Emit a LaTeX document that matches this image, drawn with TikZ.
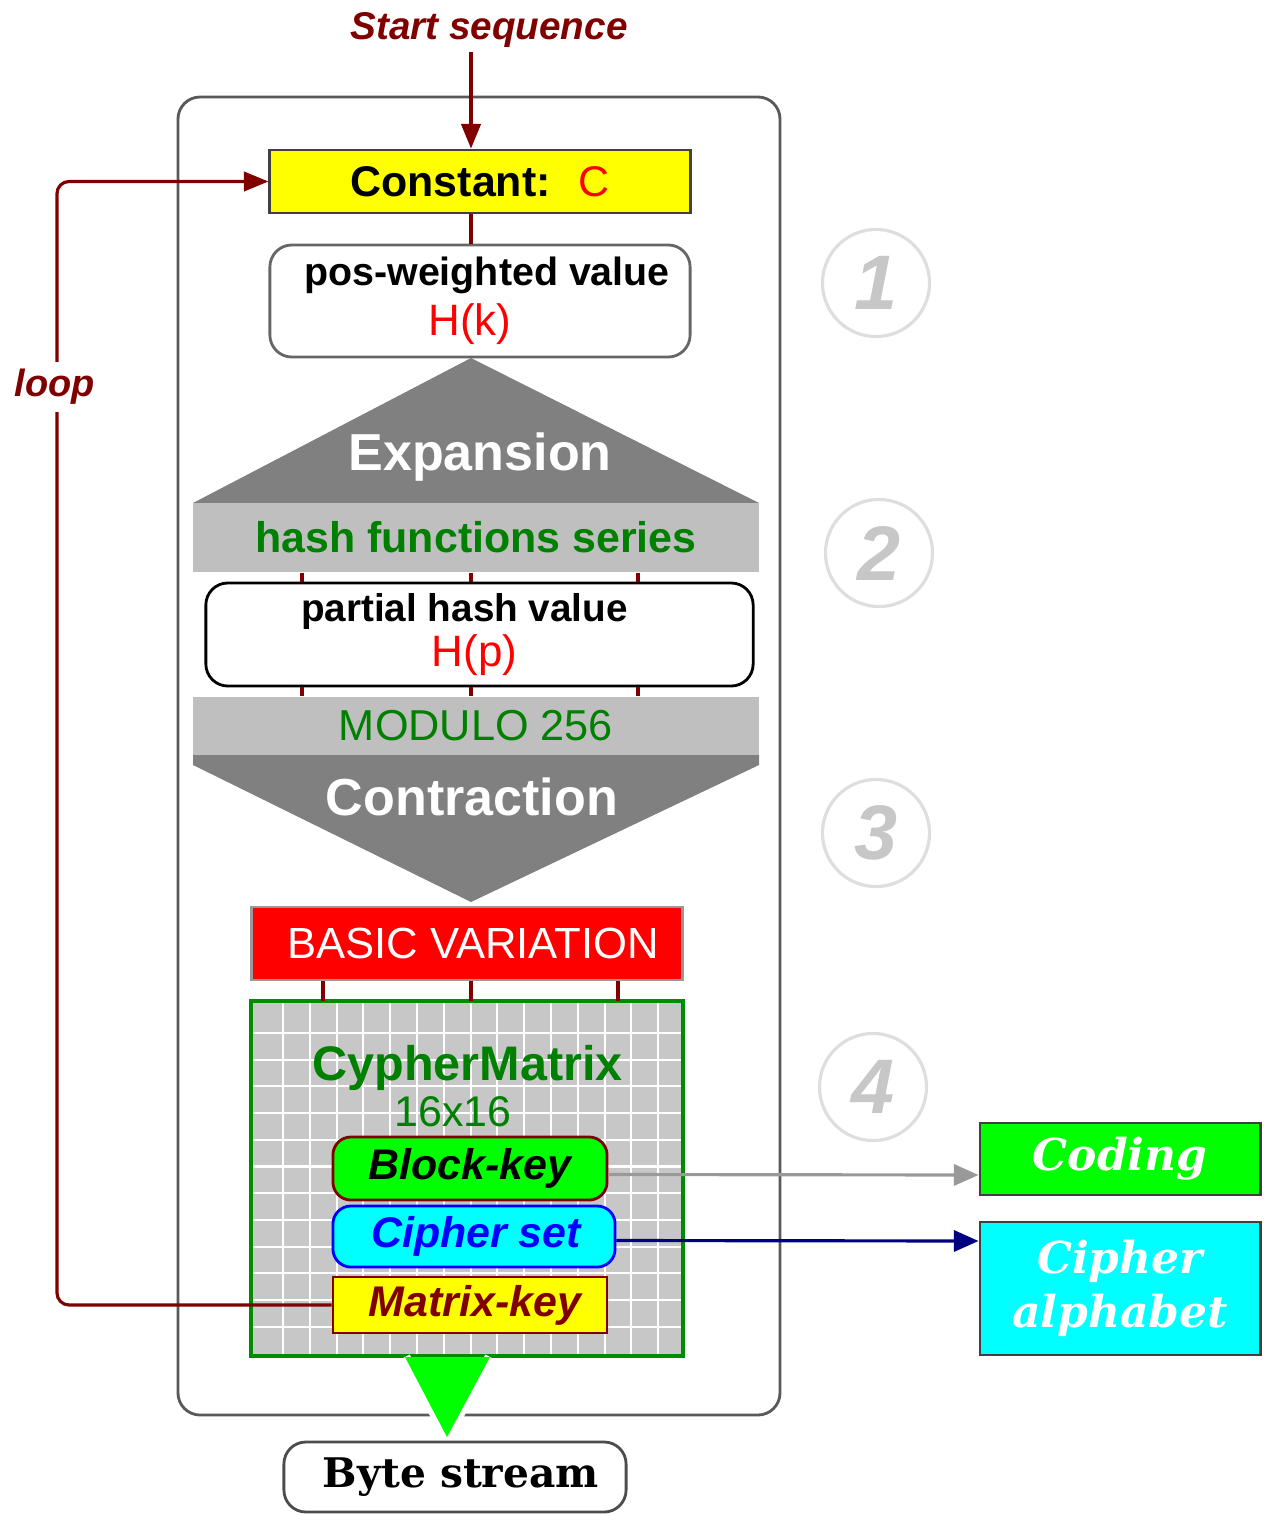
\documentclass[tikz,border=0pt]{standalone}
\usepackage{fontspec}
\setsansfont{Liberation Sans}
\newfontfamily\slabfont{DejaVu Serif}
\usetikzlibrary{positioning,arrows.meta}
\definecolor{aqua}{RGB}{0,255,255}
\definecolor{lemon}{RGB}{255,255,0}
\definecolor{lime}{RGB}{0,255,0}

\begin{document}
\begin{tikzpicture}[
    x=0.01cm, y=-0.01cm,
    node/.style={%
      inner sep=0pt,
      font=\sffamily,
    },
  ]

\tikzstyle{plate} = [node, rectangle, draw=black!75, line width=0.8pt, align=center]
\tikzstyle{box} = [plate, rounded corners=0.22cm, fill=white]
\tikzstyle{bar} = [node, rectangle, minimum width=5.66cm, fill=black!25, text=green!50!black]
\tikzstyle{key} = [plate, rounded corners=0.18cm, minimum width=2.74cm, font=\sffamily\bfseries\itshape\fontsize{12.2}{14}\selectfont]
\tikzstyle{result} = [plate, minimum width=2.8cm, text=white, font=\slabfont\bfseries\itshape\fontsize{12.5}{15.4}\selectfont]
\tikzstyle{num} = [node, circle, minimum size=1.07cm, draw=black!13, line width=0.9pt, text=black!22, font=\sffamily\bfseries\itshape\fontsize{22}{22}\selectfont]
\tikzstyle{stub} = [red!50!black, line width=0.9pt]
\tikzstyle{link} = [red!50!black, line width=0.9pt, -{Triangle[length=7pt,width=5.5pt]}]

\useasboundingbox (0,0) rectangle (1264,1515);

% frame
\draw [black!65, line width=0.8pt, rounded corners=0.22cm] (178,97) rectangle (780,1415);

% expansion and contraction
\fill [black!50] (471,358) -- (759,503) -- (193,503) -- cycle;
\fill [black!50] (193,755) -- (759,755) -- (759,765) -- (471,902) -- (193,765) -- cycle;
\node [node, text=white, font=\sffamily\bfseries\fontsize{14.8}{16}\selectfont] (W) at (480,457) {Expansion};
\node [node, text=white, font=\sffamily\bfseries\fontsize{14.8}{16}\selectfont] (X) at (472,797) {Contraction};

\node [plate, minimum width=4.2cm, minimum height=0.63cm, fill=lemon, font=\sffamily\bfseries\fontsize{12.2}{14}\selectfont] (A) at (480,181.5) {Constant:\hspace{0.65em}\textcolor{red}{\mdseries C}};
\node [box, minimum width=4.2cm, minimum height=1.12cm, draw=black!60, font=\sffamily\bfseries\fontsize{11.2}{14.2}\selectfont] (B) at (480,301) {\hspace*{0.14cm}pos-weighted value\\\textcolor{red}{\mdseries\fontsize{12.5}{14.2}\selectfont H(k)}\hspace*{0.2cm}};
\node [bar, minimum height=0.69cm, font=\sffamily\bfseries\fontsize{12.2}{14}\selectfont] (C) at (476,537.5) {hash functions series};
\node [box, minimum width=5.47cm, minimum height=1.03cm, draw=black, font=\sffamily\bfseries\fontsize{11}{12.8}\selectfont] (D) at (479.5,634.5) {partial hash value\hspace*{0.3cm}\\\textcolor{red}{\mdseries\fontsize{12.5}{12.8}\selectfont H(p)}\hspace*{0.1cm}};
\node [bar, minimum height=0.58cm, font=\sffamily\fontsize{12.3}{14}\selectfont] (E) at (476,726) {MODULO 256};
\node [plate, minimum width=4.3cm, minimum height=0.73cm, draw=black!40, fill=red, text=white, font=\sffamily\fontsize{12.4}{14}\selectfont] (F) at (467,943.5) {\hspace*{0.12cm}BASIC VARIATION};

\draw [stub] (A.south -| 471,0) -- (B.north -| 471,0);
\foreach \x in {302,471,638} {
  \draw [stub] (C.south -| \x,0) -- (D.north -| \x,0);
  \draw [stub] (D.south -| \x,0) -- (E.north -| \x,0);
}

% cypher matrix
\node [node, rectangle, minimum width=4.3cm, minimum height=3.53cm, fill=black!22] (G) at (467,1178.5) {};
\foreach \i in {0,...,14}
  \draw [white, line width=0.6pt] (283+26.8*\i,1003) -- (283+26.8*\i,1354);
\foreach \j in {0,...,11}
  \draw [white, line width=0.6pt] (253,1033+26.7*\j) -- (681,1033+26.7*\j);
\draw [green!55!black, line width=1.1pt] (G.south west) rectangle (G.north east);
\foreach \x in {323,471,618}
  \draw [stub] (F.south -| \x,0) -- (G.north -| \x,0);

\node [node, text=green!50!black, font=\sffamily\bfseries\fontsize{13.8}{15}\selectfont] (H) at (467.5,1068) {CypherMatrix};
\node [node, text=green!50!black, font=\sffamily\fontsize{12.2}{14}\selectfont] (I) at (453,1112) {16x16};
\node [key, minimum height=0.63cm, fill=lime, draw=red!50!black] (J) at (470,1168.5) {Block-key};
\node [key, minimum width=2.82cm, minimum height=0.61cm, fill=aqua, draw=blue, text=blue] (K) at (474,1236.5) {\hspace*{0.04cm}Cipher set};
\node [key, rounded corners=0pt, minimum height=0.56cm, fill=lemon, draw=red!50!black, text=red!50!black] (L) at (470,1305) {\hspace*{0.1cm}Matrix-key};

% outputs
\node [result, minimum height=0.72cm, fill=lime] (M) at (1120,1159) {Coding};
\node [result, minimum height=1.33cm, fill=aqua] (N) at (1120,1288.5) {Cipher\\alphabet};
\draw [black!40, line width=0.9pt, -{Triangle[length=7pt,width=6pt]}] ([yshift=-0.06cm]J.east) -- (M.west |- 0,1175);
\draw [blue!50!black, line width=0.9pt, -{Triangle[length=7pt,width=6pt]}] ([yshift=-0.04cm]K.east) -- (N.west |- 0,1241);

% loop back
\draw [link, rounded corners=0.12cm] (L.west) -| (A.west -| 57,0) -- (A.west);
\node [node, fill=white, inner sep=2pt, text=red!50!black, font=\sffamily\bfseries\itshape\fontsize{10.8}{12}\selectfont] (O) at (55,387) {loop};

% start
\node [node, text=red!50!black, font=\sffamily\bfseries\itshape\fontsize{11}{13}\selectfont] (P) at (489,30) {Start sequence};
\coordinate (Q) at (471,52);
\draw [link] (Q) -- (Q |- A.north);

% byte stream
\draw [white, line width=3pt] (405,1357) -- (447,1437) -- (490,1357);
\fill [lime] (405,1357) -- (490,1357) -- (447,1437) -- cycle;
\node [box, minimum width=3.42cm, minimum height=0.7cm, draw=black!70, font=\slabfont\bfseries\fontsize{11.6}{14}\selectfont] (R) at (455,1477) {\hspace*{0.12cm}Byte stream};

% steps
\node [num] (S) at (876,283) {1};
\node [num] (T) at (879,553) {2};
\node [num] (U) at (876,833) {3};
\node [num] (V) at (873,1087) {4};
\end{tikzpicture}
\end{document}
